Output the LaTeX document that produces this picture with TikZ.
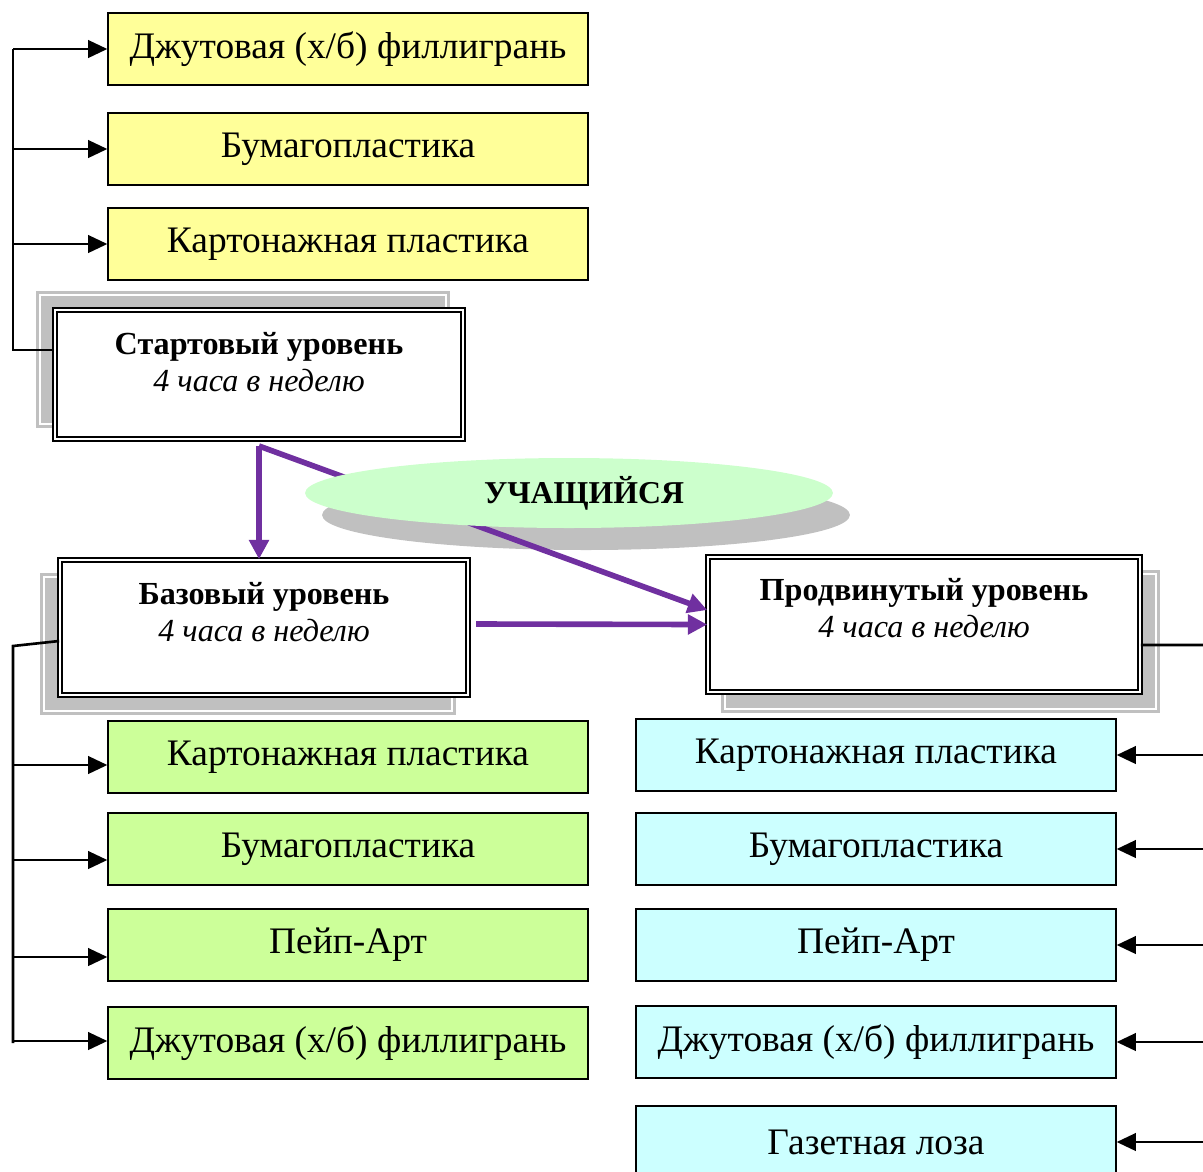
\documentclass[tikz,border=0pt]{standalone}
\usepackage{fontspec}
\setmainfont{Liberation Serif}
\usepackage{xcolor}
\usetikzlibrary{arrows.meta,shapes}
\definecolor{yellowbox}{HTML}{FFFF99}
\definecolor{greenbox}{HTML}{CCFF99}
\definecolor{cyanbox}{HTML}{CCFFFF}
\definecolor{pupilgreen}{HTML}{CCFFCC}
\definecolor{shadowgrey}{HTML}{C0C0C0}
\definecolor{routepurple}{HTML}{7030A0}

\begin{document}
\begin{tikzpicture}[x=0.02cm, y=-0.02cm,
  craft/.style={draw, line width=0.8pt, minimum width=9.6cm, minimum height=1.44cm, inner sep=0pt, font=\fontsize{21.3}{24}\selectfont},
  stage/.style={draw, double, line width=1pt, double distance=1.6pt, fill=white, minimum width=8.16cm, minimum height=2.7cm},
  stagetext/.style={align=center, inner sep=0pt, font=\fontsize{18.3}{21}\selectfont},
  feed/.style={line width=1.5pt},
  feedtip/.style={feed, -{Triangle[length=11pt, width=10pt]}},
  route/.style={draw=routepurple, line width=3.2pt, -{Triangle[length=11pt, width=11pt]}}]
\useasboundingbox (0,0) rectangle (1203,1171);

\fill[shadowgrey] (36,291) rectangle (450,428);
\draw[white, line width=0.6pt] (40,295) rectangle (446,424);
\fill[shadowgrey] (40,573) rectangle (456,715);
\draw[white, line width=0.6pt] (44,577) rectangle (452,711);
\fill[shadowgrey] (721,570) rectangle (1160,713);
\draw[white, line width=0.6pt] (725,574) rectangle (1156,709);

\node[craft, fill=yellowbox] (y1) at (348,49) {Джутовая (х/б) филлигрань};
\node[craft, fill=yellowbox] (y2) at (348,149) {Бумагопластика};
\node[craft, fill=yellowbox] (y3) at (348,244) {Картонажная пластика};

\node[craft, fill=greenbox] (g1) at (348,757) {Картонажная пластика};
\node[craft, fill=greenbox] (g2) at (348,849) {Бумагопластика};
\node[craft, fill=greenbox] (g3) at (348,945) {Пейп-Арт};
\node[craft, fill=greenbox] (g4) at (348,1043) {Джутовая (х/б) филлигрань};

\node[craft, fill=cyanbox] (c1) at (876,755) {Картонажная пластика};
\node[craft, fill=cyanbox] (c2) at (876,849) {Бумагопластика};
\node[craft, fill=cyanbox] (c3) at (876,945) {Пейп-Арт};
\node[craft, fill=cyanbox] (c4) at (876,1042) {Джутовая (х/б) филлигрань};
\node[craft, fill=cyanbox] (c5) at (876,1142) {Газетная лоза};

\node[stage, minimum height=2.58cm] (start) at (259,374.5) {};
\node[stagetext] (starttxt) at (259,362.5) {\textbf{Стартовый уровень}\\\textit{4 часа в неделю}};
\node[stage] (base) at (264,627.5) {};
\node[stagetext] (basetxt) at (264,612.5) {\textbf{Базовый уровень}\\\textit{4 часа в неделю}};
\node[stage, minimum width=8.64cm] (adv) at (924,624.5) {};
\node[stagetext] (advtxt) at (924,608.5) {\textbf{Продвинутый уровень}\\\textit{4 часа в неделю}};

\coordinate (startbus) at (13,350);
\draw[feed] (start.west |- startbus) -- (startbus) -- (startbus |- y1.west);
\foreach \n in {y1,y2,y3}
  \draw[feedtip] (startbus |- \n.west) -- (\n.west);

\coordinate (basebus) at (13,646);
\draw[feed] ([yshift=-0.27cm]base.west) -- (basebus) -- (basebus |- g4.west);
\foreach \n/\s in {g1/-0.16,g2/-0.22,g3/-0.24,g4/0.04}{
  \coordinate (t) at ([yshift=\s cm]\n.west);
  \draw[feedtip] (basebus |- t) -- (t);
}

\coordinate (advbus) at (1206,645);
\draw[feed] ([yshift=-0.41cm]adv.east) -- (advbus) -- (advbus |- c5.east);
\foreach \n in {c1,c2,c3,c4,c5}
  \draw[feedtip] (advbus |- \n.east) -- (\n.east);

\fill[shadowgrey] (586,515) ellipse [x radius=5.28cm, y radius=0.7cm];
\coordinate (fork) at (259,446);
\draw[route] (fork) -- (fork |- base.north);
\draw[route] (fork) -- ([yshift=0.29cm]adv.west);
\coordinate (b2a) at (476,624);
\draw[route] (b2a) -- (adv.west);
\node[ellipse, fill=pupilgreen, minimum width=10.56cm, minimum height=1.4cm, inner sep=0pt] (pupil) at (569,493) {};
\node[font=\fontsize{18.1}{21}\selectfont\bfseries] (pupiltxt) at (584,493) {УЧАЩИЙСЯ};
\end{tikzpicture}
\end{document}
